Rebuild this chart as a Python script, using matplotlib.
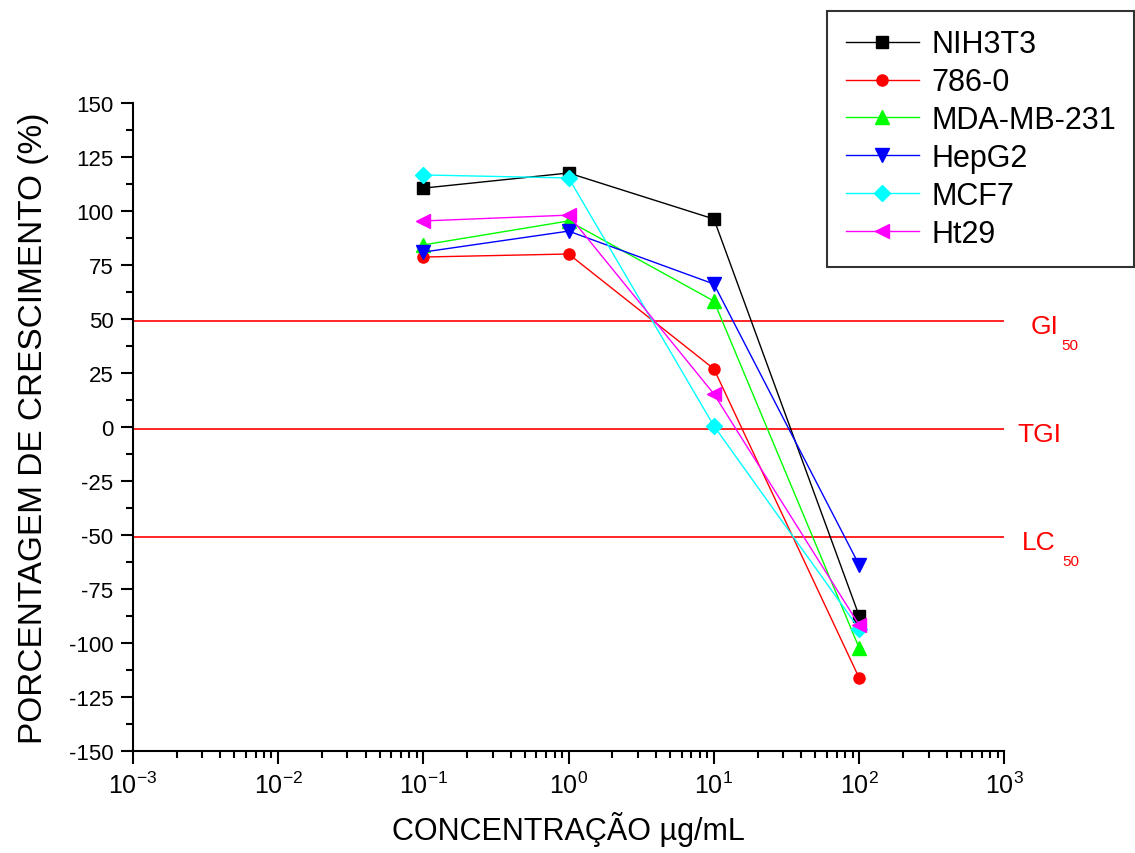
import numpy as np
import matplotlib.pyplot as plt
from matplotlib.ticker import MultipleLocator, LogLocator, NullFormatter

plt.rcParams['font.family'] = ['Liberation Sans', 'DejaVu Sans']
plt.rcParams['axes.unicode_minus'] = False
plt.rcParams['mathtext.fontset'] = 'custom'
plt.rcParams['mathtext.rm'] = 'Liberation Sans'
plt.rcParams['mathtext.it'] = 'Liberation Sans'

conc = [0.1, 1, 10, 100]
nih3t3 = [110.6, 117.6, 96.3, -87.5]
c786 = [78.7, 80.1, 26.9, -116.2]
mda = [84.3, 95.4, 58.3, -102.3]
hepg2 = [81.0, 90.7, 66.2, -63.9]
mcf7 = [116.7, 115.3, 0.5, -93.5]
ht29 = [95.4, 98.1, 15.3, -91.7]

series = [('NIH3T3', nih3t3, 'black', 's', 9),
          ('786-0', c786, 'red', 'o', 8),
          ('MDA-MB-231', mda, '#00ff00', '^', 10),
          ('HepG2', hepg2, 'blue', 'v', 10),
          ('MCF7', mcf7, 'cyan', 'D', 8),
          ('Ht29', ht29, 'magenta', '<', 10)]

xticks = [1e-3, 1e-2, 1e-1, 1, 10, 100, 1000]
xtick_labels = ['$10^{-3}$', '$10^{-2}$', '$10^{-1}$', '$10^{0}$',
                '$10^{1}$', '$10^{2}$', '$10^{3}$']

ref_vals = [49, -1, -51]
ref_names = ['GI', 'TGI', 'LC']
ref_subs = ['50', '', '50']

fig = plt.figure(figsize=(11.35, 8.54), dpi=100)
ax = fig.add_axes([0.117, 0.1194, 0.768, 0.7588])

for y in ref_vals:
    ax.axhline(y, color='red', lw=1.2, zorder=1)

handles = []
for name, vals, col, mk, ms in series:
    h, = ax.plot(conc, vals, color=col, marker=mk, markersize=ms, lw=1.0,
                 label=name, zorder=3)
    handles.append(h)

ax.set_xscale('log')
ax.set_xlim(1e-3, 1e3)
ax.set_ylim(-150, 150)
ax.yaxis.set_major_locator(MultipleLocator(25))
ax.yaxis.set_minor_locator(MultipleLocator(12.5))
ax.set_xticks(xticks)
ax.set_xticklabels(xtick_labels)
ax.xaxis.set_minor_locator(LogLocator(base=10, subs=np.arange(2, 10), numticks=20))
ax.xaxis.set_minor_formatter(NullFormatter())

for s in ['top', 'right']:
    ax.spines[s].set_visible(False)
for s in ['left', 'bottom']:
    ax.spines[s].set_linewidth(1.5)
ax.tick_params(which='major', direction='out', length=9, width=1.5, labelsize=16)
ax.tick_params(axis='x', which='major', labelsize=18, pad=6)
ax.tick_params(axis='y', which='major', pad=5)
ax.tick_params(which='minor', direction='out', length=5, width=1.5)

ax.set_xlabel('CONCENTRAÇÃO µg/mL', fontsize=22, labelpad=9)
ax.set_ylabel('PORCENTAGEM DE CRESCIMENTO (%)', fontsize=24, labelpad=14)

# reference labels on the right
tr = ax.get_yaxis_transform()
xs = [1.03, 1.015, 1.02]
for y, nm, sub, x in zip(ref_vals, ref_names, ref_subs, xs):
    ax.text(x, y - 2, nm, transform=tr, color='red', fontsize=19,
            va='center', ha='left', clip_on=False)
    if sub:
        off = 0.035 if nm == 'GI' else 0.046
        ax.text(x + off, y - 11, sub, transform=tr, color='red', fontsize=11,
                va='center', ha='left', clip_on=False)

leg = fig.legend(handles=handles, loc='upper left', bbox_to_anchor=(0.729, 0.986),
                 frameon=True, fancybox=False, edgecolor='black', fontsize=22,
                 handlelength=2.4, labelspacing=0.26, borderpad=0.6,
                 handletextpad=0.4, borderaxespad=0)
leg.get_frame().set_linewidth(1.5)

fig.savefig('out.png', dpi=100)
